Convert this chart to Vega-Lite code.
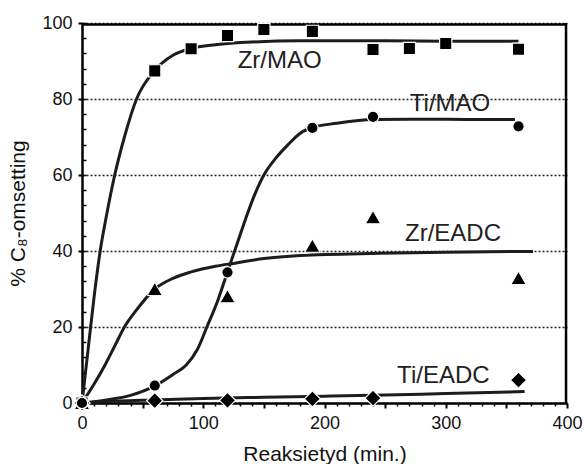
{
  "$schema": "https://vega.github.io/schema/vega-lite/v6.json",
  "width": 485,
  "height": 380,
  "autosize": "none",
  "padding": {"left": 82, "top": 23, "right": 17, "bottom": 61},
  "background": "white",
  "config": {
    "font": "Liberation Sans",
    "view": {"stroke": null},
    "axis": {"domainColor": "black", "domainWidth": 2.5, "tickColor": "black", "tickWidth": 2, "labelColor": "#111", "titleColor": "#111", "labelFont": "Liberation Sans", "titleFont": "Liberation Sans", "titleFontWeight": "normal", "labelFlush": false}
  },
  "datasets": {
    "points": [
      {"series": "Zr/MAO", "x": 0, "y": 0},
      {"series": "Zr/MAO", "x": 60, "y": 87.4},
      {"series": "Zr/MAO", "x": 90, "y": 93.2},
      {"series": "Zr/MAO", "x": 120, "y": 96.7},
      {"series": "Zr/MAO", "x": 150, "y": 98.3},
      {"series": "Zr/MAO", "x": 190, "y": 97.8},
      {"series": "Zr/MAO", "x": 240, "y": 93.0},
      {"series": "Zr/MAO", "x": 270, "y": 93.3},
      {"series": "Zr/MAO", "x": 300, "y": 94.6},
      {"series": "Zr/MAO", "x": 360, "y": 93.1},
      {"series": "Zr/EADC", "x": 0, "y": 0},
      {"series": "Zr/EADC", "x": 60, "y": 30.0},
      {"series": "Zr/EADC", "x": 120, "y": 28.1},
      {"series": "Zr/EADC", "x": 190, "y": 41.4},
      {"series": "Zr/EADC", "x": 240, "y": 48.9},
      {"series": "Zr/EADC", "x": 360, "y": 32.9},
      {"series": "Ti/EADC", "x": 0, "y": 0},
      {"series": "Ti/EADC", "x": 60, "y": 0.6},
      {"series": "Ti/EADC", "x": 120, "y": 0.7},
      {"series": "Ti/EADC", "x": 190, "y": 1.1},
      {"series": "Ti/EADC", "x": 240, "y": 1.3},
      {"series": "Ti/EADC", "x": 360, "y": 6.0},
      {"series": "Ti/MAO", "x": 60, "y": 4.6},
      {"series": "Ti/MAO", "x": 120, "y": 34.4},
      {"series": "Ti/MAO", "x": 190, "y": 72.4},
      {"series": "Ti/MAO", "x": 240, "y": 75.3},
      {"series": "Ti/MAO", "x": 360, "y": 72.8},
      {"series": "Ti/MAO", "x": 0, "y": 0}
    ],
    "curves": [
      {"series": "Zr/MAO", "x": 0, "y": 0},
      {"series": "Zr/MAO", "x": 5, "y": 14},
      {"series": "Zr/MAO", "x": 10, "y": 28},
      {"series": "Zr/MAO", "x": 15, "y": 40},
      {"series": "Zr/MAO", "x": 20, "y": 49},
      {"series": "Zr/MAO", "x": 27, "y": 60},
      {"series": "Zr/MAO", "x": 35, "y": 70},
      {"series": "Zr/MAO", "x": 45, "y": 80},
      {"series": "Zr/MAO", "x": 60, "y": 87.5},
      {"series": "Zr/MAO", "x": 75, "y": 91.5},
      {"series": "Zr/MAO", "x": 90, "y": 93.3},
      {"series": "Zr/MAO", "x": 110, "y": 94.3},
      {"series": "Zr/MAO", "x": 140, "y": 95.0},
      {"series": "Zr/MAO", "x": 180, "y": 95.3},
      {"series": "Zr/MAO", "x": 250, "y": 95.3},
      {"series": "Zr/MAO", "x": 300, "y": 95.2},
      {"series": "Zr/MAO", "x": 360, "y": 95.2},
      {"series": "Ti/MAO", "x": 0, "y": 0},
      {"series": "Ti/MAO", "x": 20, "y": 0.8},
      {"series": "Ti/MAO", "x": 40, "y": 2},
      {"series": "Ti/MAO", "x": 60, "y": 4.5},
      {"series": "Ti/MAO", "x": 75, "y": 7.5},
      {"series": "Ti/MAO", "x": 86, "y": 10},
      {"series": "Ti/MAO", "x": 95, "y": 14},
      {"series": "Ti/MAO", "x": 103, "y": 20},
      {"series": "Ti/MAO", "x": 112, "y": 27},
      {"series": "Ti/MAO", "x": 120, "y": 34.5},
      {"series": "Ti/MAO", "x": 128, "y": 42},
      {"series": "Ti/MAO", "x": 135, "y": 48.5},
      {"series": "Ti/MAO", "x": 142, "y": 54.5},
      {"series": "Ti/MAO", "x": 150, "y": 60},
      {"series": "Ti/MAO", "x": 160, "y": 64.5},
      {"series": "Ti/MAO", "x": 170, "y": 68},
      {"series": "Ti/MAO", "x": 180, "y": 71},
      {"series": "Ti/MAO", "x": 190, "y": 72.5},
      {"series": "Ti/MAO", "x": 210, "y": 73.6},
      {"series": "Ti/MAO", "x": 240, "y": 74.6},
      {"series": "Ti/MAO", "x": 280, "y": 74.7},
      {"series": "Ti/MAO", "x": 320, "y": 74.6},
      {"series": "Ti/MAO", "x": 357, "y": 74.6},
      {"series": "Zr/EADC", "x": 0, "y": 0},
      {"series": "Zr/EADC", "x": 10, "y": 5},
      {"series": "Zr/EADC", "x": 19, "y": 10},
      {"series": "Zr/EADC", "x": 27, "y": 15},
      {"series": "Zr/EADC", "x": 35, "y": 20},
      {"series": "Zr/EADC", "x": 45, "y": 24.5},
      {"series": "Zr/EADC", "x": 60, "y": 30},
      {"series": "Zr/EADC", "x": 75, "y": 32.8},
      {"series": "Zr/EADC", "x": 90, "y": 34.5},
      {"series": "Zr/EADC", "x": 110, "y": 36},
      {"series": "Zr/EADC", "x": 126, "y": 36.8},
      {"series": "Zr/EADC", "x": 150, "y": 38.0},
      {"series": "Zr/EADC", "x": 180, "y": 38.8},
      {"series": "Zr/EADC", "x": 245, "y": 39.4},
      {"series": "Zr/EADC", "x": 300, "y": 39.7},
      {"series": "Zr/EADC", "x": 372, "y": 39.9},
      {"series": "Ti/EADC", "x": 0, "y": 0},
      {"series": "Ti/EADC", "x": 30, "y": 0.5},
      {"series": "Ti/EADC", "x": 60, "y": 0.8},
      {"series": "Ti/EADC", "x": 100, "y": 1.2},
      {"series": "Ti/EADC", "x": 150, "y": 1.5},
      {"series": "Ti/EADC", "x": 200, "y": 1.8},
      {"series": "Ti/EADC", "x": 250, "y": 2.1},
      {"series": "Ti/EADC", "x": 300, "y": 2.5},
      {"series": "Ti/EADC", "x": 365, "y": 3.0}
    ],
    "labels": [
      {"text": "Zr/MAO", "x": 163, "y": 90},
      {"text": "Ti/MAO", "x": 303.5, "y": 78.8},
      {"text": "Zr/EADC", "x": 306, "y": 44.6},
      {"text": "Ti/EADC", "x": 298, "y": 7.2}
    ]
  },
  "resolve": {"scale": {"x": "shared", "y": "shared"}, "axis": {"x": "independent", "y": "independent"}},
  "layer": [
    {
      "data": {"name": "curves"},
      "mark": {"type": "line", "color": "#1c1c1c", "strokeWidth": 3, "interpolate": "monotone"},
      "encoding": {
        "x": {"field": "x", "type": "quantitative", "scale": {"domain": [0, 400], "nice": false, "zero": false},
          "axis": {"orient": "bottom", "values": [0,10,20,30,40,60,70,80,90,110,120,130,140,160,170,180,190,210,220,230,240,260,270,280,290,310,320,330,340,360,370,380,390], "tickSize": 3, "tickWidth": 1.5, "labels": false, "domain": false, "grid": false, "title": null}},
        "y": {"field": "y", "type": "quantitative", "scale": {"domain": [0, 100], "nice": false, "zero": false},
          "axis": {"orient": "left", "values": [0,4,8,12,16,20,24,28,32,36,40,44,48,52,56,60,64,68,72,76,80,84,88,92,96,100], "tickSize": -4, "tickWidth": 1.5, "labels": false, "domain": false, "grid": false, "title": null}},
        "detail": {"field": "series", "type": "nominal"}
      }
    },
    {
      "data": {"values": [{}]},
      "mark": {"type": "rule", "color": "black", "strokeWidth": 2.5},
      "encoding": {"y": {"datum": 99.6, "type": "quantitative", "axis": {"orient": "top", "domain": true, "domainOpacity": 0, "ticks": false, "labels": false, "grid": false, "title": null}}}
    },
    {
      "data": {"values": [{}]},
      "mark": {"type": "rule", "color": "black", "strokeWidth": 2.5},
      "encoding": {"x": {"datum": 399.2, "type": "quantitative", "axis": {"orient": "right", "domain": true, "domainOpacity": 0, "ticks": false, "labels": false, "grid": false, "title": null}}}
    },
    {
      "data": {"name": "points"},
      "encoding": {
        "x": {"field": "x", "type": "quantitative",
          "axis": {"orient": "bottom", "values": [0,50,100,150,200,250,300,350,400], "tickSize": 5, "labelPadding": 6, "labelFontSize": 18, "labelExpr": "datum.value % 100 === 0 ? datum.label : ''", "title": "Reaksietyd (min.)", "titleFontSize": 21, "titleX": 242.5, "titleY": 57, "titleBaseline": "alphabetic", "grid": false}},
        "y": {"field": "y", "type": "quantitative",
          "axis": {"orient": "left", "values": [0,20,40,60,80,100], "tickSize": 4, "labelPadding": 6, "labelFontSize": 18, "title": "% C₈-omsetting", "titleFontSize": 21, "titleX": -64, "titleY": 190, "titleBaseline": "middle", "titleAngle": -90, "grid": true, "gridColor": "#222", "gridDash": [2, 2], "gridWidth": 1.5}}
      },
      "layer": [
        {"transform": [{"filter": "datum.series === 'Zr/MAO'"}], "mark": {"type": "square", "size": 150, "filled": true, "opacity": 1, "color": "black", "stroke": "white", "strokeWidth": 1.2}},
        {"transform": [{"filter": "datum.series === 'Zr/EADC'"}], "mark": {"type": "point", "shape": "triangle-up", "size": 230, "filled": true, "opacity": 1, "color": "black", "stroke": "white", "strokeWidth": 1}},
        {"transform": [{"filter": "datum.series === 'Ti/EADC'"}], "mark": {"type": "point", "shape": "diamond", "size": 260, "filled": true, "opacity": 1, "color": "black", "stroke": "white", "strokeWidth": 1.2}},
        {"transform": [{"filter": "datum.series === 'Ti/MAO'"}], "mark": {"type": "circle", "size": 130, "opacity": 1, "color": "black", "stroke": "white", "strokeWidth": 1.2}}
      ]
    },
    {
      "data": {"name": "labels"},
      "mark": {"type": "text", "fontSize": 24, "color": "#222", "align": "center", "baseline": "middle"},
      "encoding": {
        "x": {"field": "x", "type": "quantitative", "axis": null},
        "y": {"field": "y", "type": "quantitative", "axis": null},
        "text": {"field": "text", "type": "nominal"}
      }
    }
  ]
}
